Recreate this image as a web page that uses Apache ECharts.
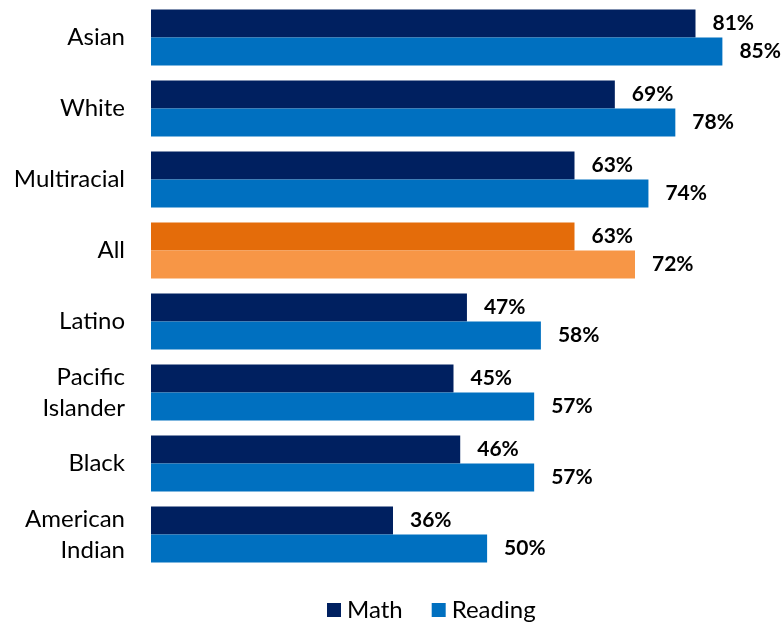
<!DOCTYPE html>
<html>
<head>
<meta charset="utf-8">
<script src="https://cdn.jsdelivr.net/npm/echarts@6/dist/echarts.min.js"></script>
<style>
  html, body { margin: 0; padding: 0; background: #fff; }
  #chart { width: 782px; height: 625px; }
</style>
</head>
<body>
<div id="chart"></div>
<script>
// Proficiency rates by group, top to bottom
const groups = ['Asian', 'White', 'Multiracial', 'All', 'Latino', 'Pacific\nIslander', 'Black', 'American\nIndian'];
const mathValues = [81, 69, 63, 63, 47, 45, 46, 36];
const readingValues = [85, 78, 74, 72, 58, 57, 57, 50];

const MATH_COLOR = '#002060';
const READING_COLOR = '#0070C0';
const ALL_MATH_COLOR = '#E46C0A';
const ALL_READING_COLOR = '#F79646';
const FONT = 'Lato, "Open Sans", sans-serif';

// Highlight the overall group in orange
function toItems(values, normal, highlight) {
  return values.map((v, i) => ({
    value: v,
    itemStyle: { color: groups[i] === 'All' ? highlight : normal }
  }));
}

const labelStyle = {
  show: true,
  position: 'right',
  distance: 17,
  formatter: p => p.value + '%',
  color: '#000',
  fontFamily: FONT,
  fontWeight: 'bold',
  fontSize: 21
};

const chart = echarts.init(document.getElementById('chart'), null, { renderer: 'canvas' });
chart.setOption({
  animation: false,
  grid: { left: 151, right: 26, top: 2, height: 568, containLabel: false },
  legend: {
    top: 598,
    left: 327,
    padding: 0,
    itemWidth: 14,
    itemHeight: 14,
    itemGap: 29,
    icon: 'rect',
    textStyle: { fontFamily: FONT, fontSize: 24, color: '#000', padding: [0, 0, 0, 1] },
    data: [
      { name: 'Math', itemStyle: { color: MATH_COLOR } },
      { name: 'Reading', itemStyle: { color: READING_COLOR } }
    ]
  },
  xAxis: {
    type: 'value',
    min: 0,
    max: 90,
    show: false,
    splitLine: { show: false }
  },
  yAxis: {
    type: 'category',
    data: groups,
    inverse: true,
    axisLine: { show: false },
    axisTick: { show: false },
    axisLabel: {
      margin: 26,
      color: '#000',
      fontFamily: FONT,
      fontSize: 24,
      lineHeight: 31
    }
  },
  series: [
    {
      name: 'Math',
      type: 'bar',
      barWidth: 28,
      barGap: '0%',
      itemStyle: { color: MATH_COLOR },
      label: labelStyle,
      data: toItems(mathValues, MATH_COLOR, ALL_MATH_COLOR)
    },
    {
      name: 'Reading',
      type: 'bar',
      barWidth: 28,
      barGap: '0%',
      itemStyle: { color: READING_COLOR },
      label: labelStyle,
      data: toItems(readingValues, READING_COLOR, ALL_READING_COLOR)
    }
  ]
});
</script>
</body>
</html>
